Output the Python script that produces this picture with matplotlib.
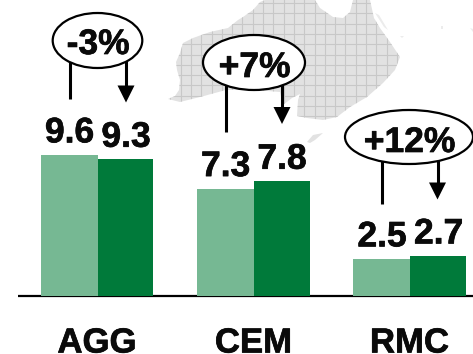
import numpy as np
import matplotlib
matplotlib.use("Agg")
import matplotlib.pyplot as plt
import matplotlib.patheffects as pe
from matplotlib.patches import Ellipse, Polygon

plt.rcParams["font.family"] = ["Liberation Sans", "DejaVu Sans"]

categories = ["AGG", "CEM", "RMC"]
before = [9.6, 7.3, 2.5]
after = [9.3, 7.8, 2.7]
changes = ["-3%", "+7%", "+12%"]

LIGHT = "#76b893"
DARK = "#007a3a"
INK = "#0a0a0a"

# slightly heavier bold for all labels
heavy = [pe.withStroke(linewidth=0.5, foreground=INK)]

# map outline in pixel units
map_outline = [
    (168, 99), (175, 96), (179, 90), (180, 80), (177, 70), (176, 62), (180, 53),
    (183, 43), (193, 38), (210, 32), (228, 28), (238, 20), (243, 17), (253, 10),
    (260, 2), (265, 0), (315, 0), (320, 8), (333, 17), (343, 18), (350, 12),
    (353, 0), (370, 0), (374, 18), (380, 28), (390, 42), (400, 57),
    (395, 70), (383, 83), (367, 97), (350, 107), (337, 117), (323, 120),
    (307, 118), (297, 116), (298, 100), (300, 94), (292, 98), (283, 105),
    (280, 92), (255, 90), (226, 90), (200, 97), (180, 102),
]
tasmania = [(307, 142), (313, 135), (323, 133), (315, 140), (310, 143)]
specks = [
    [(375, 13), (379, 15), (388, 30), (384, 27)],
    [(400, 36), (404, 36), (402, 38)],
    [(441, 26), (443, 26), (443, 29), (441, 29)],
    [(470, 28), (473, 29), (473, 32)],
]

fig = plt.figure(figsize=(4.73, 3.54), dpi=100)

# overlay in pixel coordinates for the map and callouts
bg = fig.add_axes([0, 0, 1, 1])
bg.set_xlim(0, 473)
bg.set_ylim(354, 0)
bg.axis("off")

land = Polygon(map_outline, closed=True, facecolor="#e2e2e2", edgecolor="none", zorder=1)
bg.add_patch(land)
for x in np.arange(160, 410, 10.3):
    line = bg.plot([x, x], [0, 130], color="#c8c8c8", lw=0.8, zorder=2)[0]
    line.set_clip_path(land)
for y in np.arange(3, 130, 10.3):
    line = bg.plot([160, 410], [y, y], color="#c8c8c8", lw=0.8, zorder=2)[0]
    line.set_clip_path(land)
bg.add_patch(Polygon(tasmania, closed=True, facecolor="#e2e2e2", edgecolor="none", zorder=1))
for s in specks:
    bg.add_patch(Polygon(s, closed=True, facecolor="#ececec", edgecolor="none", zorder=1))

# bars, baseline at y=295.5 px
baseline = 295.5
px_per_unit = 14.65
ax = fig.add_axes([0, 1 - baseline / 354, 1, baseline / 354])
ax.patch.set_alpha(0)
ax.set_xlim(0, 473)
ax.set_ylim(0, baseline / px_per_unit)
ax.axis("off")

left_x = [41, 197, 353]
widths_a = [57, 57, 57]
widths_b = [55, 56, 56]
for i in range(3):
    ax.bar(left_x[i], before[i], width=widths_a[i], align="edge", color=LIGHT)
    ax.bar(left_x[i] + widths_a[i], after[i], width=widths_b[i], align="edge", color=DARK)

# value labels sit a fixed distance above each bar
label_x = [(69.5, 126), (225.5, 282), (382, 438.5)]
label_gap = 12.5 / px_per_unit
for i in range(3):
    ax.text(label_x[i][0], before[i] + label_gap, f"{before[i]}", ha="center", va="baseline",
            fontsize=25.5, fontweight="bold", color=INK, path_effects=heavy)
    ax.text(label_x[i][1], after[i] + label_gap, f"{after[i]}", ha="center", va="baseline",
            fontsize=25.5, fontweight="bold", color=INK, path_effects=heavy)

bg.plot([18, 473], [296, 296], color="black", lw=1.6, zorder=6, solid_capstyle="butt")
cat_x = [97, 253.5, 409.5]
for i, c in enumerate(categories):
    bg.text(cat_x[i], 352.5, c, ha="center", va="baseline", fontsize=25, fontweight="bold",
            color=INK, path_effects=heavy)

# change callouts: ellipse, plain stem and arrow
ellipses = [(97.5, 40.5, 89.6, 55), (254, 62.5, 102, 55), (409, 137, 128, 54)]
text_base = [54, 77, 152]
stems = [(69.5, 99), (226, 131.5), (382, 204)]
arrows = [(126, 102.5), (282, 124), (437.5, 199.5)]
for i in range(3):
    cx, cy, w, h = ellipses[i]
    sx, sy = stems[i]
    ax_, tip = arrows[i]
    bg.plot([sx, sx], [cy, sy], color="black", lw=2.2, zorder=3, solid_capstyle="butt")
    bg.plot([ax_, ax_], [cy, tip - 12], color="black", lw=2.2, zorder=3, solid_capstyle="butt")
    bg.add_patch(Polygon([(ax_ - 8.5, tip - 17), (ax_ + 8.5, tip - 17), (ax_, tip)], closed=True,
                         facecolor="black", edgecolor="none", zorder=3))
    bg.add_patch(Ellipse((cx, cy), w, h, facecolor="white", edgecolor="black", lw=1.6, zorder=4))
    bg.text(cx + 0.5, text_base[i], changes[i], ha="center", va="baseline", fontsize=25.5,
            fontweight="bold", color=INK, zorder=5, path_effects=heavy)

fig.savefig("out.png", dpi=100)
